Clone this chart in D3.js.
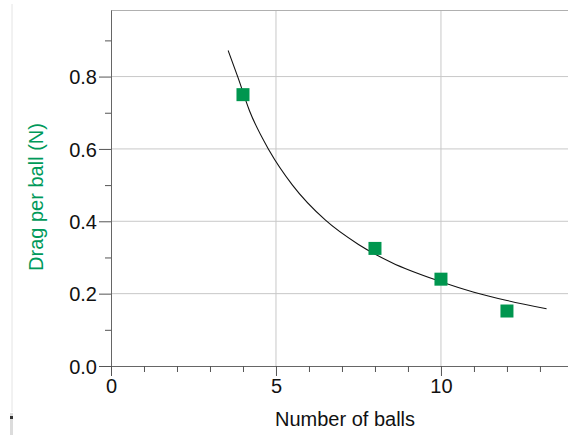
<!DOCTYPE html>
<html>
<head>
  <script src="https://d3js.org/d3.v7.min.js"></script>
  <style>
    body { margin: 0; background: #fff; }
    text { font-family: "Liberation Sans", Arial, sans-serif; }
  </style>
</head>
<body>
  <div id="chart"></div>
  <script>
    // measured points
    var balls = [4, 8, 10, 12];
    var drag = [0.75, 0.325, 0.24, 0.152];

    // fitted curve
    var curveX = [3.55, 3.85, 4.2, 4.8, 5.5, 6.5, 7.5, 8.5, 10, 11, 12, 13.2];
    var curveY = [0.872, 0.797, 0.705, 0.595, 0.5, 0.403, 0.336, 0.286, 0.233, 0.204, 0.181, 0.158];

    var xMajor = [0, 5, 10];
    var yMajor = [0.0, 0.2, 0.4, 0.6, 0.8];
    var xMinor = d3.range(1, 14);
    var yMinor = [0.1, 0.3, 0.5, 0.7, 0.9];

    var W = 568, H = 435;
    var plotL = 111, plotT = 10, plotR = 568, plotB = 366;

    var svg = d3.select("#chart").append("svg")
      .attr("width", W).attr("height", H);

    var x = d3.scaleLinear().domain([0, 13.85]).range([plotL, plotR]);
    var y = d3.scaleLinear().domain([0, 0.984]).range([plotB, plotT]);

    // faint ruler on the far left
    svg.append("line")
      .attr("x1", 12).attr("x2", 12).attr("y1", 4).attr("y2", 412)
      .attr("stroke", "#e4e4e4").attr("stroke-width", 1);
    svg.append("rect")
      .attr("x", 10).attr("y", 413).attr("width", 3).attr("height", 22)
      .attr("fill", "#dcdcdc");
    svg.append("rect")
      .attr("x", 10).attr("y", 416).attr("width", 3).attr("height", 3)
      .attr("fill", "#333");

    // grid
    svg.append("g").selectAll("line")
      .data(yMajor.filter(d => d > 0))
      .join("line")
      .attr("x1", plotL).attr("x2", plotR)
      .attr("y1", d => y(d)).attr("y2", d => y(d))
      .attr("stroke", "#c8c8c8");
    svg.append("g").selectAll("line")
      .data(xMajor.filter(d => d > 0))
      .join("line")
      .attr("y1", plotT).attr("y2", plotB)
      .attr("x1", d => x(d)).attr("x2", d => x(d))
      .attr("stroke", "#c8c8c8");
    // top frame
    svg.append("line")
      .attr("x1", plotL).attr("x2", plotR).attr("y1", plotT + 0.5).attr("y2", plotT + 0.5)
      .attr("stroke", "#b0b0b0");

    // axes
    var yAxis = svg.append("g")
      .attr("transform", "translate(" + plotL + ",0)")
      .call(d3.axisLeft(y).tickValues(yMajor).tickSize(12).tickSizeOuter(0).tickPadding(2)
        .tickFormat(d3.format(".1f")));
    svg.append("g")
      .attr("transform", "translate(" + plotL + ",0)")
      .call(d3.axisLeft(y).tickValues(yMinor).tickSize(6).tickFormat(""))
      .select(".domain").remove();

    var xAxis = svg.append("g")
      .attr("transform", "translate(0," + plotB + ")")
      .call(d3.axisBottom(x).tickValues(xMajor).tickSize(10).tickSizeOuter(0).tickPadding(3));
    svg.append("g")
      .attr("transform", "translate(0," + plotB + ")")
      .call(d3.axisBottom(x).tickValues(xMinor.filter(d => d % 5 != 0)).tickSize(6).tickFormat(""))
      .select(".domain").remove();

    svg.selectAll(".domain").attr("stroke", "#666");
    svg.selectAll(".tick line").attr("stroke", "#555");
    svg.selectAll(".tick text")
      .attr("fill", "#111")
      .style("font-size", "20px")
      .style("font-family", "'Liberation Sans', Arial, sans-serif");
    yAxis.selectAll(".tick text").attr("dy", "0.36em");

    // fitted curve
    var line = d3.line()
      .x(d => x(d[0]))
      .y(d => y(d[1]))
      .curve(d3.curveMonotoneX);
    svg.append("path")
      .datum(curveX.map((v, i) => [v, curveY[i]]))
      .attr("d", line)
      .attr("fill", "none")
      .attr("stroke", "#111")
      .attr("stroke-width", 1.1);

    // data squares
    var s = 13;
    svg.append("g").selectAll("rect")
      .data(balls)
      .join("rect")
      .attr("x", d => x(d) - s / 2)
      .attr("y", (d, i) => y(drag[i]) - s / 2)
      .attr("width", s).attr("height", s)
      .attr("fill", "#00964f");

    // titles
    svg.append("text")
      .attr("x", 345).attr("y", 426)
      .attr("text-anchor", "middle")
      .style("font-size", "20px")
      .attr("fill", "#111")
      .text("Number of balls");

    svg.append("text")
      .attr("transform", "translate(43,197) rotate(-90)")
      .attr("text-anchor", "middle")
      .style("font-size", "20px")
      .attr("fill", "#00995a")
      .text("Drag per ball (N)");
  </script>
</body>
</html>
